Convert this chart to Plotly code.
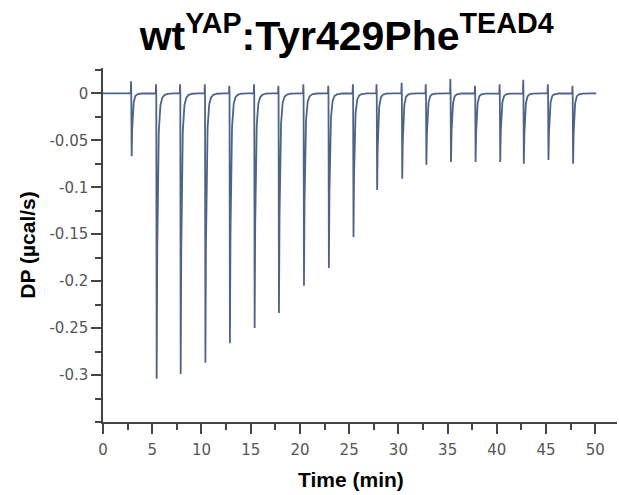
import numpy as np
import plotly.graph_objects as go

# Injection data
inj_times = [2.87, 5.41, 7.85, 10.36, 12.85, 15.36, 17.83, 20.37, 22.9, 25.4,
             27.8, 30.35, 32.8, 35.3, 37.8, 40.3, 42.7, 45.2, 47.7]
peak_dp = [-0.067, -0.304, -0.299, -0.287, -0.266, -0.250, -0.234, -0.205, -0.186,
           -0.153, -0.103, -0.091, -0.076, -0.073, -0.073, -0.073, -0.075, -0.071, -0.075]
spike_dp = [0.016, 0.012, 0.012, 0.012, 0.010, 0.012, 0.010, 0.012, 0.010, 0.012,
            0.012, 0.014, 0.012, 0.019, 0.010, 0.012, 0.018, 0.012, 0.010]
t_end = 50.1
x_ticks = [0, 5, 10, 15, 20, 25, 30, 35, 40, 45, 50]
y_ticks = [0, -0.05, -0.1, -0.15, -0.2, -0.25, -0.3]
y_ticktext = ["0", "-0.05", "-0.1", "-0.15", "-0.2", "-0.25", "-0.3"]

# Build the trace from the injection peaks
t = np.arange(0.0, t_end, 0.01)
dp = np.zeros_like(t)
for ti, d, s in zip(inj_times, peak_dp, spike_dp):
    m = (t >= ti - 0.05) & (t < ti)
    dp[m] += s * (1 - np.abs(t[m] - (ti - 0.025)) / 0.025).clip(0)
    m = (t >= ti) & (t < ti + 0.04)
    dp[m] += d * (t[m] - ti) / 0.04
    m = t >= ti + 0.04
    u = t[m] - ti - 0.04
    dp[m] += d * (0.86 * np.exp(-u / 0.09) + 0.14 * np.exp(-u / 0.25))

fig = go.Figure()
fig.add_trace(go.Scatter(x=t, y=dp, mode="lines",
                         line=dict(color="#4d6488", width=1.8),
                         hoverinfo="skip", showlegend=False))

axis_common = dict(
    showline=True, linecolor="#444", linewidth=1.5,
    ticks="outside", tickcolor="#444", tickwidth=1.5, ticklen=10,
    showgrid=False, zeroline=False,
    tickfont=dict(family="DejaVu Sans, sans-serif", size=15, color="#555"),
)

fig.update_xaxes(range=[0, 52.2], tickvals=x_ticks,
                 ticktext=[str(v) for v in x_ticks],
                 ticklabelstandoff=3,
                 minor=dict(ticks="outside", dtick=2.5, tick0=0, ticklen=6,
                            tickcolor="#444", tickwidth=1.5),
                 **axis_common)
fig.update_yaxes(range=[-0.35, 0.027], tickvals=y_ticks, ticktext=y_ticktext,
                 minor=dict(ticks="outside", dtick=0.025, tick0=0, ticklen=6,
                            tickcolor="#444", tickwidth=1.5),
                 title=dict(text="<b>DP (µcal/s)</b>",
                            font=dict(family="Liberation Sans, Arial", size=21, color="black"),
                            standoff=8),
                 **axis_common)

fig.add_annotation(text="<b>Time (min)</b>", xref="paper", yref="paper",
                   x=(351 - 103) / 514, y=-(479 - 422) / 354,
                   xanchor="center", yanchor="middle", showarrow=False,
                   font=dict(family="Liberation Sans, Arial", size=21, color="black"))

fig.update_layout(
    width=619, height=495,
    margin=dict(l=103, r=2, t=68, b=73),
    paper_bgcolor="white", plot_bgcolor="white",
    title=dict(text="<b>wt<sup>YAP</sup>:Tyr429Phe<sup>TEAD4</sup></b>",
               font=dict(family="Liberation Sans, Arial", size=41, color="black"),
               x=0.474, xref="paper", xanchor="center",
               y=1 - 36 / 495, yref="container", yanchor="middle"),
)

fig.write_html("out.html")
